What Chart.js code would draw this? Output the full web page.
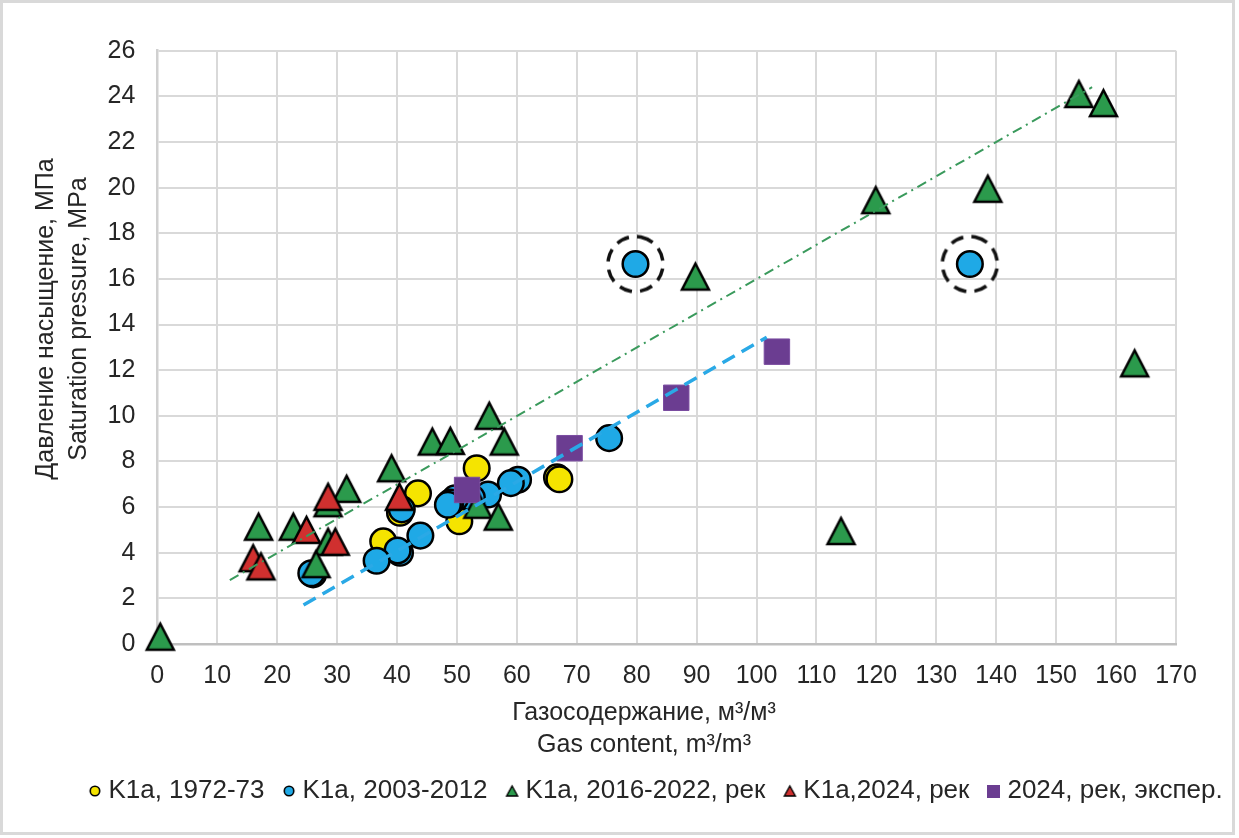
<!DOCTYPE html>
<html><head><meta charset="utf-8">
<script src="https://cdn.jsdelivr.net/npm/chart.js@4.4.1/dist/chart.umd.min.js"></script>
<style>html,body{margin:0;padding:0;background:#fff}#wrap{width:1239px;height:838px}</style>
</head><body><div id="wrap"><canvas id="c" width="1239" height="838"></canvas></div>
<script>
// ---- data ----
const seriesNames = ['K1a, 1972-73', 'K1a, 2003-2012', 'K1a, 2016-2022, рек', 'K1a,2024, рек', '2024, рек, экспер.'];
const yellowX = [53.3, 66.7, 67.1, 43.5, 50.4, 37.7, 40.5];
const yellowY = [7.7, 7.3, 7.22, 6.6, 5.38, 4.5, 5.75];
const blueX = [79.8, 135.6, 75.4, 60.2, 59.0, 55.2, 52.5, 49.7, 48.9, 48.5, 40.8, 43.9, 40.5, 40.1, 36.6, 26.0, 25.7];
const blueY = [16.65, 16.65, 9.02, 7.2, 7.05, 6.55, 6.4, 6.38, 6.2, 6.1, 5.9, 4.75, 4.0, 4.1, 3.65, 3.05, 3.1];
const greenX = [0.5, 153.8, 157.9, 119.9, 138.6, 89.8, 163.1, 114.1, 55.4, 45.9, 48.9, 57.9, 39.1, 31.6, 28.5, 16.9, 22.7, 28.5, 26.5, 53.5, 56.9];
const greenY = [0.32, 24.1, 23.7, 19.45, 19.95, 16.1, 12.3, 4.95, 10.0, 8.87, 8.9, 8.87, 7.7, 6.8, 6.17, 5.14, 5.14, 4.48, 3.5, 6.1, 5.58];
const redX = [28.5, 40.4, 24.9, 29.7, 16.0, 17.3];
const redY = [6.45, 6.45, 5.0, 4.48, 3.76, 3.4];
const purpleX = [51.7, 68.8, 86.6, 103.4];
const purpleY = [6.75, 8.58, 10.79, 12.81];
const greenTrendX = [12.1, 156.0];
const greenTrendY = [2.8, 24.4];
const blueTrendX = [24.4, 101.7];
const blueTrendY = [1.71, 13.44];
const circledBlue = [0, 1];   // indexes of blue points marked with dashed rings
const xTickMin = 0, xTickMax = 170, xTickStep = 10;
const yTickMin = 0, yTickMax = 26, yTickStep = 2;
const xTitle = ['Газосодержание, м³/м³', 'Gas content, m³/m³'];
const yTitle = ['Давление насыщение, МПа', 'Saturation pressure, MPa'];

const pts = (xs, ys) => xs.map((x, i) => ({x, y: ys[i]}));

// ---- marker images ----
const FONT = "'Liberation Sans', Arial, sans-serif";
function triImg(fill, w, h, lw) {
  const pad = Math.ceil(lw * 2 + 2);
  const c = document.createElement('canvas');
  c.width = w + pad * 2; c.height = h + pad * 2;
  const g = c.getContext('2d');
  g.beginPath();
  g.moveTo(pad + w / 2, pad);
  g.lineTo(pad + w, pad + h);
  g.lineTo(pad, pad + h);
  g.closePath();
  g.fillStyle = fill; g.fill();
  g.lineJoin = 'miter'; g.lineWidth = lw; g.strokeStyle = '#000'; g.stroke();
  return c;
}
function circImg(fill, d, lw) {
  const s = Math.ceil(d + lw + 4);
  const c = document.createElement('canvas'); c.width = s; c.height = s;
  const g = c.getContext('2d');
  g.beginPath(); g.arc(s / 2, s / 2, d / 2, 0, Math.PI * 2);
  g.fillStyle = fill; g.fill(); g.lineWidth = lw; g.strokeStyle = '#000'; g.stroke();
  return c;
}
function sqImg(fill, a) {
  const c = document.createElement('canvas'); c.width = a; c.height = a;
  const g = c.getContext('2d'); g.fillStyle = fill; g.fillRect(0, 0, a, a);
  return c;
}
function ringImg(r, lw) {
  const s = Math.ceil(2 * r + lw + 6);
  const c = document.createElement('canvas'); c.width = s; c.height = s;
  const g = c.getContext('2d');
  g.setLineDash([13, 8]); g.lineWidth = lw; g.strokeStyle = '#111';
  g.beginPath(); g.arc(s / 2, s / 2, r, -Math.PI / 2 + 0.2, Math.PI * 1.5 + 0.2); g.stroke();
  return c;
}
const C_YEL = '#f5e400', C_BLU = '#1fa9e6', C_GRN = '#2b9a4c', C_RED = '#d0302f', C_PUR = '#6b3d91';

const plotData = {
  datasets: [
    {label: seriesNames[0], data: pts(yellowX, yellowY), pointStyle: 'circle', pointRadius: 12.8, pointBackgroundColor: C_YEL, pointBorderColor: '#000', pointBorderWidth: 2.5, order: 5, clip: false, legendIcon: circImg(C_YEL, 9.5, 1.6)},
    {label: seriesNames[1], data: pts(blueX, blueY), pointStyle: 'circle', pointRadius: 12.8, pointBackgroundColor: C_BLU, pointBorderColor: '#000', pointBorderWidth: 2.5, order: 4, clip: false, legendIcon: circImg(C_BLU, 9.5, 1.6)},
    {label: seriesNames[2], data: pts(greenX, greenY), pointStyle: triImg(C_GRN, 27, 26, 2.5), order: 3, clip: false, legendIcon: triImg(C_GRN, 11, 10, 1.4)},
    {label: seriesNames[3], data: pts(redX, redY), pointStyle: triImg(C_RED, 27, 26, 2.5), order: 2, clip: false, legendIcon: triImg(C_RED, 11, 10, 1.4)},
    {label: seriesNames[4], data: pts(purpleX, purpleY), pointStyle: 'rect', pointRadius: 18, pointBackgroundColor: C_PUR, pointBorderColor: '#7a4ca0', pointBorderWidth: 1, order: 1, clip: false, legendIcon: sqImg(C_PUR, 13)},
    {label: 'trend green', data: pts(greenTrendX, greenTrendY), showLine: true, pointRadius: 0, borderColor: '#3a9a5c', borderWidth: 2, borderDash: [10, 5, 2, 5], order: 0, hideInLegend: true},
    {label: 'trend blue', data: pts(blueTrendX, blueTrendY), showLine: true, pointRadius: 0, borderColor: '#2aa9e6', borderWidth: 3.5, borderDash: [14, 8], order: 0, hideInLegend: true},
    {label: 'ring', data: circledBlue.map(i => ({x: blueX[i], y: blueY[i]})), pointStyle: ringImg(27.5, 3.5), order: 0, clip: false, hideInLegend: true}
  ]
};

const frame = {
  id: 'frame',
  beforeDraw(chart) {
    const g = chart.ctx; g.save();
    g.fillStyle = '#fff'; g.fillRect(0, 0, chart.width, chart.height);
    g.strokeStyle = '#d9d9d9'; g.lineWidth = 3; g.strokeRect(1.5, 1.5, 1232, 832);
    g.restore();
  }
};
const legendShift = {
  id: 'legendShift',
  afterLayout(chart) { const l = chart.legend; if (l) { l.left += 39; l.right += 39; } }
};
const axisTitles = {
  id: 'axisTitles',
  afterDraw(chart) {
    const g = chart.ctx; g.save();
    g.fillStyle = '#262626'; g.font = '25px ' + FONT; g.textAlign = 'center'; g.textBaseline = 'middle';
    g.fillText(xTitle[0], 644, 713);
    g.fillText(xTitle[1], 644, 745);
    g.translate(0, 319); g.rotate(-Math.PI / 2);
    g.fillText(yTitle[0], 0, 46);
    g.fillText(yTitle[1], 0, 79);
    g.restore();
  }
};

new Chart(document.getElementById('c'), {
  type: 'scatter',
  data: plotData,
  plugins: [frame, legendShift, axisTitles],
  options: {
    responsive: false, animation: false, devicePixelRatio: 1, events: [],
    layout: {padding: {left: 0, right: 0, top: 50.7, bottom: 24}},
    plugins: {
      tooltip: {enabled: false},
      legend: {
        position: 'bottom',
        labels: {
          usePointStyle: true, boxWidth: 1, boxHeight: 10, padding: 24, color: '#262626',
          font: {size: 26, family: FONT},
          filter: (item, data) => !data.datasets[item.datasetIndex].hideInLegend,
          sort: (a, b) => a.datasetIndex - b.datasetIndex,
          generateLabels(chart) {
            const items = Chart.defaults.plugins.legend.labels.generateLabels(chart);
            items.forEach(it => { const ds = chart.data.datasets[it.datasetIndex]; if (ds.legendIcon) it.pointStyle = ds.legendIcon; });
            return items;
          }
        }
      }
    },
    scales: {
      x: {
        type: 'linear', min: xTickMin, max: xTickMax,
        ticks: {stepSize: xTickStep, color: '#262626', font: {size: 25, family: FONT}, padding: 17, maxRotation: 0},
        grid: {color: '#d9d9d9', lineWidth: 2, drawTicks: false},
        border: {color: '#bfbfbf', width: 2.5},
        afterFit(s) { s.height = 110; }
      },
      y: {
        type: 'linear', min: yTickMin, max: yTickMax,
        ticks: {stepSize: yTickStep, color: '#262626', font: {size: 25, family: FONT}, padding: 22},
        grid: {color: '#d9d9d9', lineWidth: 2, drawTicks: false},
        border: {color: '#d0d0d0', width: 2.5},
        afterFit(s) { s.width = 157.3; }
      },
      yR: {
        type: 'linear', position: 'right', display: true,
        grid: {display: false, drawTicks: false}, ticks: {display: false}, border: {display: false},
        afterFit(s) { s.width = 63; }
      }
    }
  }
});
</script></body></html>
